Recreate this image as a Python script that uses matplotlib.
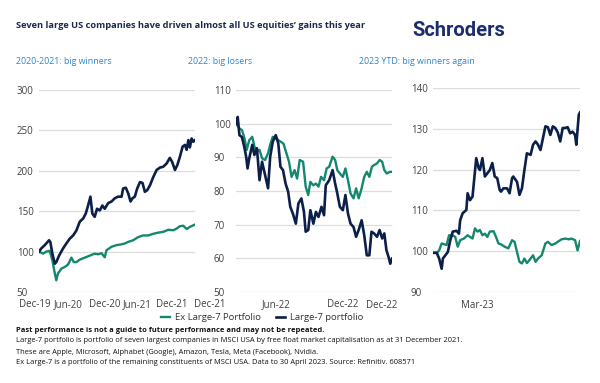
import matplotlib
matplotlib.use("Agg")
import matplotlib.pyplot as plt
import matplotlib.transforms as mtransforms

plt.rcParams['font.family'] = ['Open Sans', 'DejaVu Sans']

NAVY = '#0b1f48'
TEAL = '#14876f'
BLUE = '#2f86c8'
GRID = '#dddddd'
TICK = '#404040'

# ---------------- Data ----------------
# Panel 1: 2020-2021 (days since 31 Dec 2019), indexed to 100
p1_large_days = [0, 11, 27, 47, 53, 63, 74, 81, 94, 113, 128, 144, 160, 175, 191, 207, 219, 230, 241, 250,
                 261, 272, 285, 297, 308, 324, 340, 355, 371, 387, 394, 407, 418, 429, 438, 449, 460, 473,
                 485, 496, 507, 520, 535, 551, 567, 582, 598, 613, 624, 637, 648, 660, 673, 684, 692, 700,
                 707, 715, 723, 731]
p1_large_vals = [100, 104, 108, 114, 112, 97, 85, 87, 95, 104, 110, 116, 120, 126, 137, 141, 147, 157, 168, 147,
                 143, 153, 151, 157, 153, 160, 162, 166, 168, 168, 178, 179, 172, 162, 166, 168, 178, 186,
                 185, 174, 176, 182, 192, 201, 204, 205, 209, 216, 211, 201, 207, 217, 230, 232, 226, 238,
                 229, 240, 236, 238]
p1_ex_days = [0, 19, 34, 50, 63, 74, 81, 89, 105, 121, 136, 152, 163, 175, 191, 214, 238, 261, 277, 293, 308,
              316, 340, 363, 387, 402, 418, 441, 465, 488, 512, 535, 559, 582, 606, 629, 645, 660, 676, 692,
              707, 731]
p1_ex_vals = [100, 97.5, 100, 101, 89, 73, 64.5, 73, 79, 81, 84, 92.5, 87, 87, 90, 92.5, 95, 97.5, 96.7, 98, 93,
              101.6, 106, 108, 109, 110, 112, 114, 118, 120, 120, 122, 123.5, 124.4, 127, 126.4, 128.5, 131.4,
              132, 128, 130.6, 133.5]

# Panel 2: 2022 (days since 31 Dec 2021)
p2_large_days = [0, 4, 8, 14, 20, 24, 27, 31, 38, 43, 49, 55, 61, 69, 75, 80, 86, 93, 99, 104, 110, 116, 122,
                 127, 133, 140, 146, 153, 159, 163, 169, 174, 181, 187, 193, 200, 206, 210, 218, 226, 232,
                 237, 243, 250, 256, 262, 268, 275, 281, 287, 294, 300, 306, 312, 317, 323, 330, 336, 342,
                 347, 352, 357, 361, 365]
p2_large_vals = [100, 102, 96.6, 96, 92.7, 90, 86.7, 89.7, 93.7, 90.7, 92.7, 83.2, 88.7, 84.2, 80.8, 90.2, 94.6,
                 96.6, 94.1, 87.2, 86.2, 82.2, 79.8, 75.3, 73.3, 70.3, 76.3, 77.8, 73.8, 67.9, 68.4, 74.3,
                 70.3, 73.8, 72.3, 75.3, 72.8, 81.7, 83.2, 86.2, 82.2, 79.3, 75.3, 74.3, 78.8, 73.3, 70.3,
                 69.3, 66.4, 68.4, 71.3, 66.9, 60.9, 60.9, 67.9, 67.4, 66.4, 68.4, 65.9, 67.4, 62.4, 60.4,
                 58.4, 59.9]
p2_ex_days = [0, 8, 14, 20, 25, 31, 38, 43, 49, 55, 61, 68, 75, 80, 86, 93, 99, 105, 111, 118, 124, 130, 137,
              143, 149, 157, 163, 169, 174, 181, 187, 193, 199, 206, 212, 218, 226, 232, 237, 243, 250, 256,
              262, 268, 275, 281, 287, 294, 300, 306, 312, 318, 323, 330, 336, 342, 347, 353, 360, 365]
p2_ex_vals = [100, 98.6, 98.1, 95.6, 92.2, 95.1, 96.1, 93.2, 91.7, 92.2, 89.7, 89.2, 91.2, 93.7, 96.1, 95.6,
              95.1, 94.6, 94.1, 91.2, 88.7, 84.2, 86.2, 83.7, 89.2, 88.7, 81.3, 78.8, 82.7, 81.7, 82.2, 81.3,
              84.2, 83.2, 86.7, 87.2, 90.2, 89.2, 86.2, 85.2, 84.2, 86.7, 83.2, 79.3, 77.8, 80.8, 77.8, 80.8,
              84.2, 85.7, 84.2, 87.2, 87.7, 88.2, 89.2, 88.7, 86.2, 85.2, 85.7, 85.7]

# Panel 3: 2023 YTD (days since 30 Dec 2022)
p3_large_days = [0, 3, 5, 7, 8, 10, 12, 14, 16, 19, 21, 22, 24, 27, 28, 30, 32, 35, 37, 38, 40, 42, 44, 46,
                 48, 50, 52, 54, 55, 57, 60, 62, 64, 65, 68, 70, 72, 74, 76, 79, 81, 83, 85, 87, 89, 91, 93,
                 95, 97, 99, 101, 103, 105, 107, 109, 111, 113, 115, 116, 118, 119]
p3_large_vals = [99.6, 99.6, 98.2, 95.7, 98.2, 99.0, 99.8, 102.7, 104.8, 105, 104.3, 107.6, 109.3, 110.1, 114.2,
                 112.5, 113.4, 122.8, 120.3, 119.9, 122.8, 118.3, 119.1, 119.9, 121.6, 118.3, 117.9, 115,
                 114.6, 115.4, 115.4, 114.2, 117.9, 118.3, 117.0, 113.8, 115.4, 119.9, 124, 123.6, 126.1,
                 126.9, 126.1, 124.8, 127.7, 130.6, 130.4, 128.5, 130.6, 130.2, 129.1, 126.9, 130.2, 130.2,
                 130.4, 128.9, 129.3, 128.5, 126.1, 133.4, 134]
p3_ex_days = [0, 3, 5, 7, 9, 11, 13, 16, 18, 20, 22, 25, 28, 30, 32, 34, 36, 38, 40, 42, 44, 46, 49, 51, 53,
              55, 58, 61, 64, 66, 68, 70, 72, 74, 76, 78, 81, 83, 85, 88, 91, 93, 96, 99, 101, 104, 107, 110,
              112, 115, 117, 119]
p3_ex_vals = [99.6, 99.6, 100.2, 101.9, 101.7, 101.5, 103.9, 103.9, 103.5, 101.1, 102.7, 103.1, 103.9, 103.5,
              103.1, 105.6, 104.8, 105.2, 103.9, 104.3, 103.5, 104.8, 104.9, 103.5, 101.9, 101.7, 101.1, 100.7,
              102.7, 102.3, 99.8, 97.4, 97, 98.2, 97.1, 97.8, 99, 97.4, 98.2, 99, 101.9, 102.3, 101.5, 101.9,
              102.3, 102.9, 103.1, 102.9, 103.1, 102.7, 100.2, 102.5]

panel_titles = ['2020-2021: big winners', '2022: big losers', '2023 YTD: big winners again']
y_ticks = [[50, 100, 150, 200, 250, 300], [50, 60, 70, 80, 90, 100, 110], [90, 100, 110, 120, 130, 140]]
x_labels = [['Dec-19', 'Jun-20', 'Dec-20', 'Jun-21', 'Dec-21'], ['Dec-21', 'Jun-22', 'Dec-22'], ['Dec-22', 'Mar-23']]
x_label_frac = [[-0.025, 0.19, 0.42, 0.63, 0.85], [-0.17, 0.255, 0.685], [-0.35, 0.30]]
spans = [731, 365, 119]

series = [
    (p1_ex_days, p1_ex_vals, p1_large_days, p1_large_vals),
    (p2_ex_days, p2_ex_vals, p2_large_days, p2_large_vals),
    (p3_ex_days, p3_ex_vals, p3_large_days, p3_large_vals),
]

fig = plt.figure(figsize=(6.0, 3.83), dpi=100)
W, H = 600, 383

def px_axes(x0, x1, ytop, ybot):
    return [x0 / W, 1 - ybot / H, (x1 - x0) / W, (ybot - ytop) / H]

rects = [px_axes(39, 195, 90, 292), px_axes(236, 392, 90, 292), px_axes(433, 580, 88, 292)]
title_x = [16, 188, 359]

handles = None
for i in range(3):
    ax = fig.add_axes(rects[i])
    exd, exv, lgd, lgv = series[i]
    h1, = ax.plot(exd, exv, color=TEAL, lw=1.7, solid_joinstyle='round', zorder=3)
    h2, = ax.plot(lgd, lgv, color=NAVY, lw=1.9, solid_joinstyle='round', zorder=4)
    if handles is None:
        handles = [h1, h2]
    ax.set_xlim(0, spans[i])
    ax.set_ylim(y_ticks[i][0], y_ticks[i][-1])
    ax.set_yticks(y_ticks[i])
    ax.set_yticklabels([str(t) for t in y_ticks[i]], ha='left', color=TICK, fontsize=7)
    ax.tick_params(axis='y', length=0, pad=16)
    ax.set_xticks([])
    for s in ax.spines.values():
        s.set_visible(False)
    ax.grid(axis='y', color=GRID, lw=0.9, zorder=0)
    ax.set_axisbelow(True)
    ax.patch.set_alpha(0)
    trans = mtransforms.blended_transform_factory(ax.transAxes, ax.transAxes)
    for lab, fx in zip(x_labels[i], x_label_frac[i]):
        ax.text(fx, -0.064, lab, transform=trans, ha='center', va='center',
                fontsize=7, color=TICK, clip_on=False)
    fig.text(title_x[i] / W, 1 - 61 / H, panel_titles[i], color=BLUE, fontsize=6.4,
             ha='left', va='center')

fig.text(16 / W, 1 - 25 / H,
         "Seven large US companies have driven almost all US equities\u2019 gains this year",
         color='#1b2a4a', fontsize=6.7, fontweight='bold', ha='left', va='center')
fig.text(505 / W, 1 - 30 / H, "Schroders", color='#1a2d6d', fontsize=14.5, fontweight='semibold',
         ha='right', va='center', family=['Roboto', 'DejaVu Sans'])

fig.legend(handles, ['Ex Large-7 Portfolio', 'Large-7 portfolio'], loc='center',
           bbox_to_anchor=(262 / W, 1 - 318 / H), ncol=2, frameon=False, fontsize=6.8,
           handlelength=1.0, handletextpad=0.5, columnspacing=1.6, labelcolor='#333333')

foot = [
    ("Past performance is not a guide to future performance and may not be repeated.", 'bold'),
    ("Large-7 portfolio is portfolio of seven largest companies in MSCI USA by free float market capitalisation as at 31 December 2021.", 'normal'),
    ("These are Apple, Microsoft, Alphabet (Google), Amazon, Tesla, Meta (Facebook), Nvidia.", 'normal'),
    ("Ex Large-7 is a portfolio of the remaining constituents of MSCI USA. Data to 30 April 2023. Source: Refinitiv. 608571", 'normal'),
]
for k, (txt, wt) in enumerate(foot):
    fig.text(16 / W, 1 - (330 + 11 * k) / H, txt, fontsize=5.4, fontweight=wt, color='#111111',
             ha='left', va='center')

fig.savefig('out.png', dpi=100)
